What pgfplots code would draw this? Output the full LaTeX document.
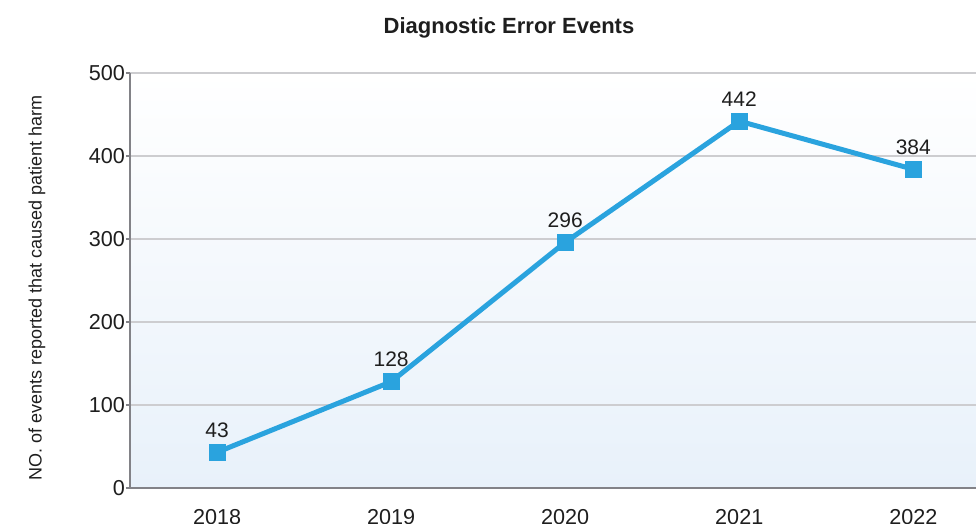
\documentclass[border=0pt]{standalone}
\usepackage{pgfplots}
\pgfplotsset{compat=1.18}
\usepackage{fontspec}
\setmainfont{Liberation Sans}
\definecolor{linec}{RGB}{42,163,222}
\definecolor{bgb}{RGB}{232,241,250}
\definecolor{gridc}{RGB}{205,205,208}
\definecolor{axc}{RGB}{130,130,135}
\definecolor{txt}{RGB}{30,30,30}
\begin{document}
\begin{tikzpicture}
\useasboundingbox (-65pt,-18pt) rectangle (423pt,244pt);
\begin{axis}[
  at={(0,0)}, anchor=south west,
  scale only axis, width=423pt, height=207.5pt,
  xmin=-0.5, xmax=4.36, ymin=0, ymax=500,
  axis x line=bottom, axis y line=left,
  axis line style={draw=axc, line width=0.8pt, -},
  x axis line style={-}, y axis line style={-},
  xtick={0,1,2,3,4}, xticklabels={2018,2019,2020,2021,2022},
  ytick={0,100,200,300,400,500},
  major x tick style={draw=none},
  major y tick style={draw=axc, line width=0.6pt},
  tick align=outside, major tick length=2pt,
  ymajorgrids, grid style={draw=gridc, line width=0.6pt},
  tick label style={font=\fontsize{10.8}{12}\selectfont, text=txt},
  /pgf/number format/assume math mode=true,
  xticklabel style={yshift=-5pt},
  yticklabel style={xshift=3pt},
  axis background/.style={top color=white, bottom color=bgb},
  clip=false,
]
\addplot[color=linec, line width=2.5pt, mark=square*, mark size=4pt,
  mark options={solid, fill=linec, draw=linec, line width=0pt},
  nodes near coords, point meta=explicit symbolic,
  every node near coord/.style={font=\fontsize{10.5}{12}\selectfont, text=txt, anchor=south, yshift=4pt}]
  coordinates {(0,43)[43] (1,128)[128] (2,296)[296] (3,442)[442] (4,384)[384]};
\end{axis}
\node[font=\fontsize{9}{11}\selectfont, text=txt, rotate=90] at (-46.5pt,100pt) {NO. of events reported that caused patient harm};
\node[font=\bfseries\fontsize{11}{13}\selectfont, text=txt] at (189.5pt,230pt) {Diagnostic Error Events};
\end{tikzpicture}
\end{document}
